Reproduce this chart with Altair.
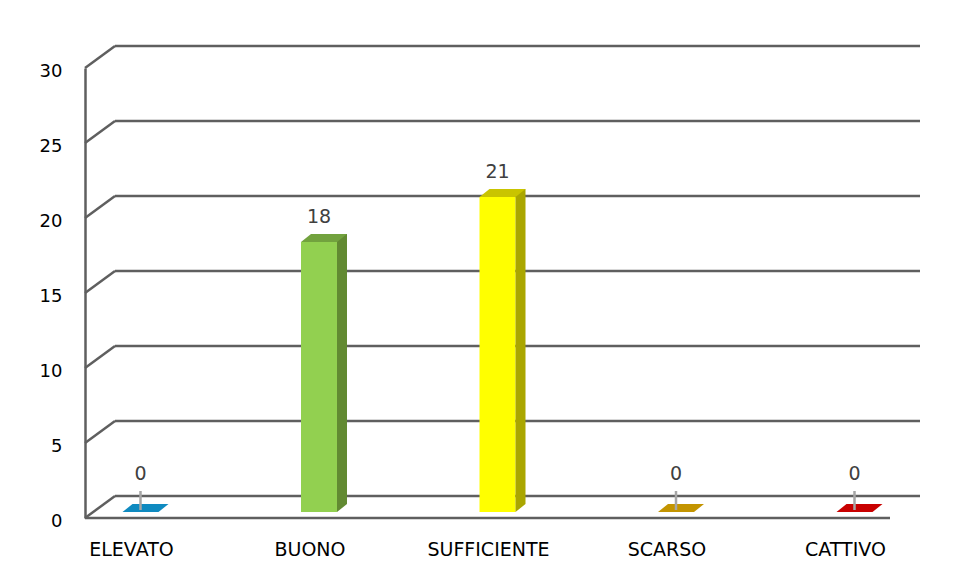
import altair as alt
import pandas as pd

# ---- data ----
categories = ["ELEVATO", "BUONO", "SUFFICIENTE", "SCARSO", "CATTIVO"]
values = [0, 18, 21, 0, 0]
front_colors = ["#1a8cc4", "#92d050", "#ffff00", "#c09000", "#c00000"]
side_colors = ["#136a94", "#628a32", "#aaa600", "#8f6b00", "#900000"]
top_colors = ["#0f8ac0", "#72a23e", "#c9c400", "#c39400", "#c80000"]
y_ticks = [0, 5, 10, 15, 20, 25, 30]

df = pd.DataFrame({
    "cat": categories,
    "value": values,
    "front": front_colors,
    "side": side_colors,
    "top": top_colors,
})
ticks_df = pd.DataFrame({"v": y_ticks})

# ---- layout / style ----
W, H = 805, 450
DEPTH_X, DEPTH_Y = 30, -22      # back wall offset
BASE = -6                        # bars sit slightly behind the front floor
CX = 9.5                         # bar centre offset from category position
GRID = "#5f5f5f"
FONT = "DejaVu Sans"

y_scale = alt.Scale(domain=[0, 30], nice=False, zero=True)
x_scale = alt.Scale(type="point", domain=categories, range=[46, 760], padding=0)

x_enc = alt.X(
    "cat:N", sort=categories, scale=x_scale,
    axis=alt.Axis(title=None, labelAngle=0, ticks=False, grid=False,
                  domain=False, labelFont=FONT,
                  labelFontSize=19, labelColor="#000000", labelPadding=22),
)
y_axis = alt.Axis(title=None, ticks=False, grid=False, values=y_ticks,
                  domainColor=GRID, domainWidth=2.5, labelFont=FONT,
                  labelFontSize=18, labelColor="#000000", labelPadding=23,
                  labelOffset=3)

# back wall gridlines
back = alt.Chart(ticks_df).mark_rule(color=GRID, strokeWidth=2.5, yOffset=DEPTH_Y).encode(
    y=alt.Y("v:Q", scale=y_scale, axis=y_axis),
    x=alt.value(DEPTH_X),
    x2=alt.value(W + DEPTH_X),
)
# side wall diagonals
diag = alt.Chart(ticks_df).mark_rule(color=GRID, strokeWidth=2.5, y2Offset=DEPTH_Y).encode(
    y=alt.Y("v:Q", scale=y_scale, axis=y_axis),
    y2=alt.Y2("v:Q"),
    x=alt.value(0),
    x2=alt.value(DEPTH_X),
)
# front floor edge
floor = alt.Chart(ticks_df).transform_filter("datum.v == 0").mark_rule(
    color=GRID, strokeWidth=2.5
).encode(
    y=alt.Y("v:Q", scale=y_scale, axis=y_axis),
    x=alt.value(0),
    x2=alt.value(W),
)

nonzero = "datum.value > 0"
zero = "datum.value == 0"

front = alt.Chart(df).transform_filter(nonzero).mark_bar(
    size=36, xOffset=CX, yOffset=BASE, y2Offset=BASE
).encode(
    x=x_enc,
    y=alt.Y("value:Q", scale=y_scale, axis=y_axis),
    y2=alt.datum(0),
    color=alt.Color("front:N", scale=None),
)
side = alt.Chart(df).transform_filter(nonzero).mark_bar(
    size=10, xOffset=CX + 23, yOffset=BASE - 8, y2Offset=BASE - 8
).encode(
    x=x_enc,
    y=alt.Y("value:Q", scale=y_scale, axis=y_axis),
    y2=alt.datum(0),
    color=alt.Color("side:N", scale=None),
)
side_bottom = alt.Chart(df).transform_filter(nonzero).mark_point(
    shape="M0,0L0,-8L10,-8Z", size=4, filled=True, opacity=1, strokeWidth=0,
    xOffset=CX + 18, yOffset=BASE
).encode(
    x=x_enc,
    y=alt.datum(0),
    color=alt.Color("side:N", scale=None),
)
top = alt.Chart(df).mark_point(
    shape="M0,0L36,0L46,-8L10,-8Z", size=4, filled=True, opacity=1, strokeWidth=0,
    xOffset=CX - 18, yOffset=BASE
).encode(
    x=x_enc,
    y=alt.Y("value:Q", scale=y_scale, axis=y_axis),
    color=alt.Color("top:N", scale=None),
)
leader = alt.Chart(df).transform_filter(zero).mark_rule(
    color="#a6a6a6", strokeWidth=2.5, xOffset=CX, x2Offset=CX, yOffset=-8, y2Offset=-27
).encode(
    x=x_enc,
    y=alt.Y("value:Q", scale=y_scale, axis=y_axis),
    y2=alt.Y2("value:Q"),
)
labels_nz = alt.Chart(df).transform_filter(nonzero).mark_text(
    dx=CX, dy=-31, font=FONT, fontSize=19, color="#404040"
).encode(
    x=x_enc,
    y=alt.Y("value:Q", scale=y_scale, axis=y_axis),
    text=alt.Text("value:Q"),
)
labels_z = alt.Chart(df).transform_filter(zero).mark_text(
    dx=CX, dy=-44, font=FONT, fontSize=19, color="#404040"
).encode(
    x=x_enc,
    y=alt.Y("value:Q", scale=y_scale, axis=y_axis),
    text=alt.Text("value:Q"),
)

chart = alt.layer(
    back, diag, floor, front, side, side_bottom, top, leader, labels_nz, labels_z
).properties(
    width=W, height=H,
    autosize=alt.AutoSizeParams(type="none"),
    padding={"left": 77, "top": 60, "right": 57, "bottom": 55},
    background="#ffffff",
).configure_view(stroke=None)

chart.save("out.html", embed_options={"renderer": "svg", "actions": False})
